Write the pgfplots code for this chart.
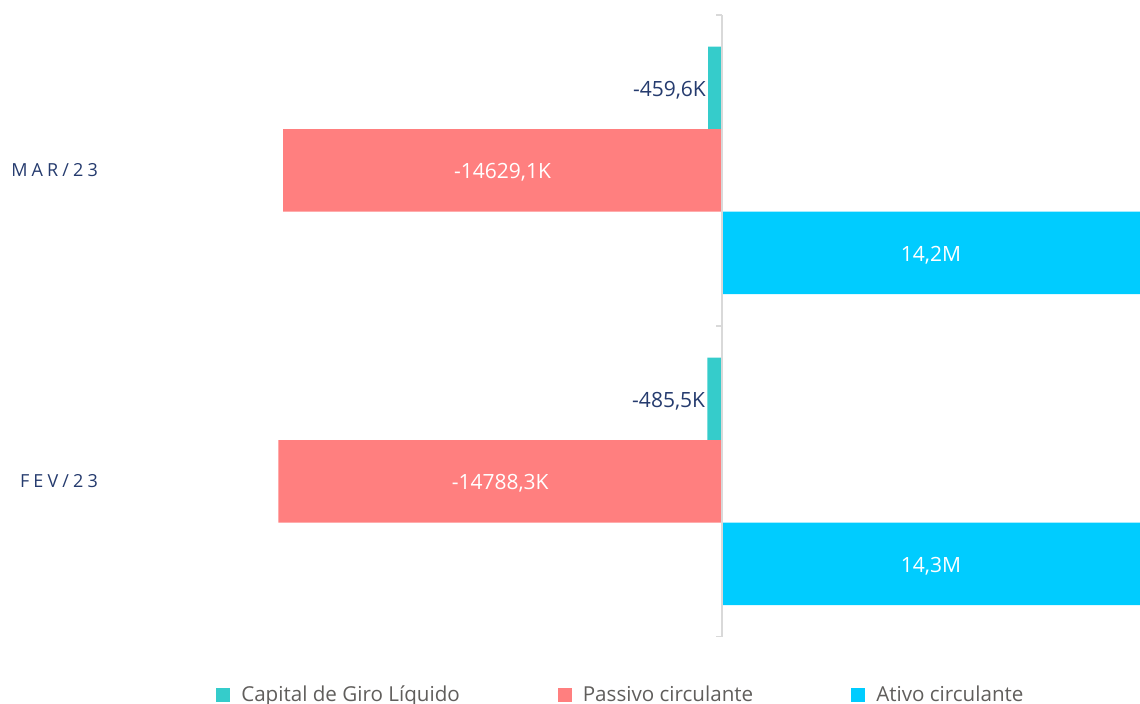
\documentclass[border=0pt]{standalone}
\usepackage{pgfplots}
\usepackage{pgfplotstable}
\pgfplotsset{compat=1.18}
\usepackage{fontspec}
\setmainfont{Open Sans}
\newfontfamily\catfont[LetterSpace=23]{Open Sans}
\definecolor{tealc}{HTML}{35CCCB}
\definecolor{salmc}{HTML}{FF7F7F}
\definecolor{cyanc}{HTML}{00CCFF}
\definecolor{navyc}{HTML}{253B6E}
\definecolor{legc}{HTML}{605E5C}
\definecolor{linec}{HTML}{D9D9D9}

\pgfplotstableread{
y x label
1 -459.6 -459,6K
0 -485.5 -485,5K
}\capdata
\pgfplotstableread{
y x label
1 -14629.1 -14629,1K
0 -14788.3 -14788,3K
}\pasdata
\pgfplotstableread{
y x label
1 14169.5 14,2M
0 14302.8 14,3M
}\atvdata

\begin{document}
\begin{tikzpicture}[x=1pt,y=1pt]
\useasboundingbox (0,0) rectangle (570,352);
\begin{axis}[
  at={(55pt,33.5pt)}, anchor=south west,
  width=515pt, height=311pt, scale only axis,
  xmin=-20400, xmax=13933, ymin=-0.5, ymax=1.5,
  axis line style={draw=none},
  xtick=\empty,
  ytick={0,1}, yticklabels={FEV/23,MAR/23},
  major tick length=0pt,
  yticklabel style={font=\catfont\fontsize{9}{11}\selectfont, text=navyc, anchor=east, xshift=-2.5pt},
  clip=true,
  legend style={at={(axis description cs:0.497,-0.093)}, anchor=center, draw=none, fill=none,
    legend columns=3, font=\fontsize{10.3}{12}\selectfont, text=legc,
    /tikz/every odd column/.append style={column sep=3.5pt},
    /tikz/every even column/.append style={column sep=47pt}},
  legend image code/.code={\fill[#1] (0pt,-3.5pt) rectangle (7pt,3.5pt);},
]
\addplot[xbar, bar width=41.25pt, bar shift=41.25pt, fill=tealc, draw=none]
  table[x=x,y=y]{\capdata};
\addlegendentry{Capital de Giro Líquido}
\addplot[xbar, bar width=41.25pt, bar shift=0pt, fill=salmc, draw=none]
  table[x=x,y=y]{\pasdata};
\addlegendentry{Passivo circulante}
\addplot[xbar, bar width=41.25pt, bar shift=-41.25pt, fill=cyanc, draw=none]
  table[x=x,y=y]{\atvdata};
\addlegendentry{Ativo circulante}
% data labels
\addplot[only marks, mark=none, forget plot,
  nodes near coords, point meta=explicit symbolic,
  every node near coord/.append style={anchor=east, text=navyc, font=\fontsize{10.5}{12}\selectfont, inner sep=1pt, yshift=-1pt}]
  table[x=x, y expr=\thisrow{y}+0.265273, meta=label]{\capdata};
\addplot[only marks, mark=none, forget plot,
  nodes near coords, point meta=explicit symbolic,
  every node near coord/.append style={anchor=center, text=white, font=\fontsize{10.5}{12}\selectfont, yshift=-1pt}]
  table[x expr=\thisrow{x}/2, y=y, meta=label]{\pasdata};
\addplot[only marks, mark=none, forget plot,
  nodes near coords, point meta=explicit symbolic,
  every node near coord/.append style={anchor=center, text=white, font=\fontsize{10.5}{12}\selectfont, yshift=-1pt}]
  table[x expr=6966, y expr=\thisrow{y}-0.265273, meta=label]{\atvdata};
% vertical axis line with category ticks
\draw[linec, line width=1pt] (axis cs:0,-0.5) -- (axis cs:0,1.5);
\draw[linec, line width=1pt] (axis cs:0,-0.5) -- ++(-3pt,0pt);
\draw[linec, line width=1pt] (axis cs:0,0.5) -- ++(-3pt,0pt);
\draw[linec, line width=1pt] (axis cs:0,1.5) -- ++(-3pt,0pt);
\end{axis}
\end{tikzpicture}
\end{document}
